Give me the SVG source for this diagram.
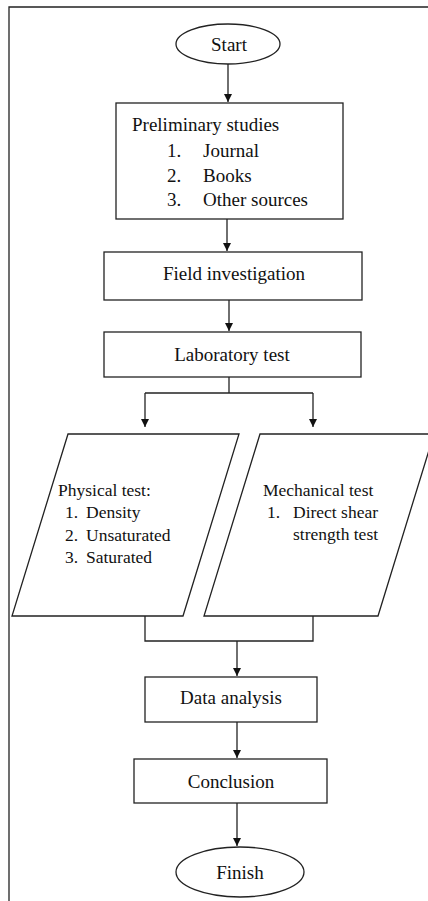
<svg xmlns="http://www.w3.org/2000/svg" width="428" height="901" viewBox="0 0 428 901">
<style>
.s{fill:#fff;stroke:#222;stroke-width:1.3}
.c{fill:none;stroke:#222;stroke-width:1.3}
text{font-family:'Liberation Serif','DejaVu Serif',serif;fill:#111}
.t{font-size:19px}
.m{text-anchor:middle}
.p{font-size:17.5px}
</style>
<defs>
<marker id="ah" viewBox="0 0 10 10" refX="10" refY="5" markerWidth="8" markerHeight="9" markerUnits="userSpaceOnUse" orient="auto">
<path d="M0,0 L10,5 L0,10 Z" fill="#111"/>
</marker>
</defs>
<rect width="428" height="901" fill="#fff"/>
<path class="c" d="M428,7 H9 V901"/>
<g id="connectors">
<path class="c" d="M228,64 V102" marker-end="url(#ah)"/>
<path class="c" d="M227,219 V251" marker-end="url(#ah)"/>
<path class="c" d="M229,300 V331" marker-end="url(#ah)"/>
<path class="c" d="M229,377 V393"/>
<path class="c" d="M145,393 H313"/>
<path class="c" d="M145,393 V427" marker-end="url(#ah)"/>
<path class="c" d="M313,393 V427" marker-end="url(#ah)"/>
<path class="c" d="M145,616 V641 H313 V616"/>
<path class="c" d="M237,641 V676" marker-end="url(#ah)"/>
<path class="c" d="M237,722 V758" marker-end="url(#ah)"/>
<path class="c" d="M237,803 V846" marker-end="url(#ah)"/>
</g>
<g id="start">
<ellipse class="s" cx="228" cy="44" rx="52" ry="20"/>
<text class="t m" x="229" y="51">Start</text>
</g>
<g id="preliminary">
<rect class="s" x="116" y="103" width="227" height="116"/>
<text class="t" x="132" y="131">Preliminary studies</text>
<text class="t" x="167" y="157">1.</text><text class="t" x="203" y="157">Journal</text>
<text class="t" x="167" y="182">2.</text><text class="t" x="203" y="182">Books</text>
<text class="t" x="167" y="206">3.</text><text class="t" x="203" y="206">Other sources</text>
</g>
<g id="field">
<rect class="s" x="104" y="252" width="258" height="48"/>
<text class="t m" x="234" y="280">Field investigation</text>
</g>
<g id="laboratory">
<rect class="s" x="104" y="332" width="257" height="45"/>
<text class="t m" x="232" y="361">Laboratory test</text>
</g>
<g id="physical">
<path class="s" d="M68,434 H239 L183,616 H12 Z"/>
<text class="p" x="58" y="496">Physical test:</text>
<text class="p" x="65" y="518">1.</text><text class="p" x="86" y="518">Density</text>
<text class="p" x="65" y="541">2.</text><text class="p" x="86" y="541">Unsaturated</text>
<text class="p" x="65" y="563">3.</text><text class="p" x="86" y="563">Saturated</text>
</g>
<g id="mechanical">
<path class="s" d="M260,434 H434 L378,616 H204 Z"/>
<text class="p" x="263" y="496">Mechanical test</text>
<text class="p" x="267" y="518">1.</text><text class="p" x="293" y="518">Direct shear</text>
<text class="p" x="293" y="540">strength test</text>
</g>
<g id="data">
<rect class="s" x="145" y="677" width="172" height="45"/>
<text class="t m" x="231" y="704">Data analysis</text>
</g>
<g id="conclusion">
<rect class="s" x="134" y="759" width="193" height="44"/>
<text class="t m" x="231" y="788">Conclusion</text>
</g>
<g id="finish">
<ellipse class="s" cx="240" cy="872" rx="64" ry="25"/>
<text class="t m" x="240" y="879">Finish</text>
</g>
</svg>
